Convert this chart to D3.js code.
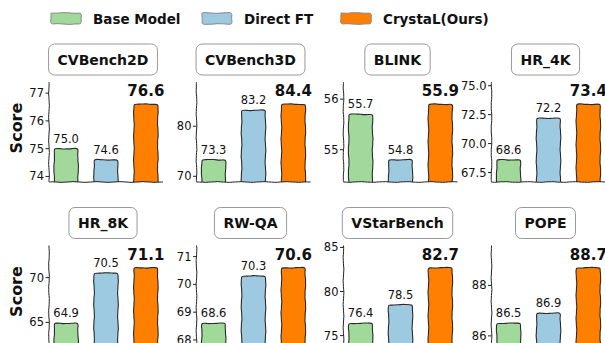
<!DOCTYPE html>
<html>
<head>
<meta charset="utf-8">
<script src="https://cdn.jsdelivr.net/npm/d3@7/dist/d3.min.js"></script>
<style>
  body { margin: 0; background: #fff; }
  svg { display: block; font-family: "DejaVu Sans", sans-serif; }
</style>
</head>
<body>
<svg id="chart" width="605" height="343"></svg>
<script>
// data
var benchmarks = ["CVBench2D", "CVBench3D", "BLINK", "HR_4K", "HR_8K", "RW-QA", "VStarBench", "POPE"];
var baseModel = [75.0, 73.3, 55.7, 68.6, 64.9, 68.6, 76.4, 86.5];
var directFT = [74.6, 83.2, 54.8, 72.2, 70.5, 70.3, 78.5, 86.9];
var crystal = [76.6, 84.4, 55.9, 73.4, 71.1, 70.6, 82.7, 88.7];
var seriesNames = ["Base Model", "Direct FT", "CrystaL(Ours)"];
var seriesColors = ["#a1d99b", "#9ecae1", "#ff7f00"];
var yTicks = [
    [74, 75, 76, 77],
    [70, 80],
    [55, 56],
    [67.5, 70, 72.5, 75],
    [65, 70],
    [68, 69, 70, 71],
    [75, 80, 85],
    [86, 88]
];

var svg = d3.select("#chart");

// layout
var colLeft = [49, 196.5, 343.5, 491.5];
var rowTop = [82, 245.5];
var axW = 114;
var axH = 100;

// small deterministic wobble so lines look hand drawn
function wobble(t, seed) {
    return 0.35 * Math.sin(t * 0.27 + seed) + 0.2 * Math.sin(t * 0.81 + seed * 2.1);
}

function sketchLine(pts, seed, closed) {
    var out = [];
    var list = closed ? pts.concat([pts[0]]) : pts;
    var dist = 0;
    for (var i = 0; i < list.length - 1; i++) {
        var a = list[i], b = list[i + 1];
        var len = Math.hypot(b[0] - a[0], b[1] - a[1]);
        var n = Math.max(2, Math.ceil(len / 3));
        var nx = -(b[1] - a[1]) / (len || 1), ny = (b[0] - a[0]) / (len || 1);
        for (var k = 0; k <= n; k++) {
            if (k === 0 && i > 0) continue;
            var f = k / n;
            var d = (k === 0 || k === n) ? 0 : wobble(dist + f * len, seed + i);
            out.push([a[0] + (b[0] - a[0]) * f + nx * d, a[1] + (b[1] - a[1]) * f + ny * d]);
        }
        dist += len;
    }
    return d3.line().curve(d3.curveBasis)(out) + (closed ? "Z" : "");
}

// legend
var legendX = [51, 202, 341];
seriesNames.forEach(function (name, i) {
    var x0 = legendX[i];
    svg.append("path")
        .attr("d", sketchLine([[x0, 13], [x0 + 30, 13], [x0 + 30, 24], [x0, 24]], i * 3 + 1, true))
        .attr("fill", seriesColors[i])
        .attr("stroke", "#888")
        .attr("stroke-width", 1);
    svg.append("text")
        .attr("x", x0 + 42)
        .attr("y", 23.5)
        .attr("font-size", "13.5px")
        .attr("font-weight", "bold")
        .attr("fill", "#111")
        .text(name);
});

var defs = svg.append("defs");

benchmarks.forEach(function (name, p) {
    var row = Math.floor(p / 4), col = p % 4;
    var left = colLeft[col], top = rowTop[row];
    var vals = [baseModel[p], directFT[p], crystal[p]];
    var lo = d3.min(vals), hi = d3.max(vals), span = hi - lo;

    var x = d3.scaleLinear().domain([-0.43, 2.43]).range([left, left + axW]);
    var y = d3.scaleLinear().domain([lo - 0.4 * span, hi + 0.4 * span]).range([top + axH, top]);

    var g = svg.append("g").attr("class", "panel");

    defs.append("clipPath").attr("id", "clip" + p)
        .append("rect")
        .attr("x", left).attr("y", top - 5)
        .attr("width", axW).attr("height", axH + 5);

    // bars
    var bars = g.append("g").attr("clip-path", "url(#clip" + p + ")");
    vals.forEach(function (v, i) {
        var x0 = x(i - 0.3), x1 = x(i + 0.3);
        var yTop = y(v), yBot = top + axH + 4;
        bars.append("path")
            .attr("d", sketchLine([[x0, yBot], [x0, yTop], [x1, yTop], [x1, yBot]], p * 7 + i * 2, true))
            .attr("fill", seriesColors[i])
            .attr("stroke", "#2a2a2a")
            .attr("stroke-width", 1.1);
    });

    // value labels
    vals.forEach(function (v, i) {
        var best = i === 2;
        g.append("text")
            .attr("x", x(i))
            .attr("y", y(v) - (best ? 8 : 6))
            .attr("text-anchor", "middle")
            .attr("font-size", best ? "15px" : "11.5px")
            .attr("font-weight", best ? "bold" : "normal")
            .attr("fill", "#111")
            .text(v.toFixed(1));
    });

    // spines
    g.append("path")
        .attr("d", sketchLine([[left, top], [left, top + axH]], p + 11, false))
        .attr("fill", "none").attr("stroke", "#222").attr("stroke-width", 1);
    g.append("path")
        .attr("d", sketchLine([[left, top + axH], [left + axW, top + axH]], p + 17, false))
        .attr("fill", "none").attr("stroke", "#222").attr("stroke-width", 1);

    // y ticks
    var fmt = yTicks[p].some(function (t) { return t % 1 !== 0; }) ? d3.format(".1f") : d3.format("d");
    yTicks[p].forEach(function (t) {
        var ty = y(t);
        g.append("line")
            .attr("x1", left - 3.5).attr("x2", left)
            .attr("y1", ty).attr("y2", ty)
            .attr("stroke", "#222").attr("stroke-width", 1);
        g.append("text")
            .attr("x", left - 5)
            .attr("y", ty)
            .attr("dy", "0.35em")
            .attr("text-anchor", "end")
            .attr("font-size", "11.5px")
            .attr("fill", "#111")
            .text(fmt(t));
    });

    // title box
    var cx = left + axW / 2 - 3;
    var title = g.append("text")
        .attr("x", cx)
        .attr("y", top - 22)
        .attr("dy", "0.35em")
        .attr("text-anchor", "middle")
        .attr("font-size", "14px")
        .attr("font-weight", "bold")
        .attr("fill", "#111")
        .text(name);
    var tw = title.node().getComputedTextLength();
    g.insert("rect", "text")
        .attr("x", cx - tw / 2 - 9)
        .attr("y", top - 38)
        .attr("width", tw + 18)
        .attr("height", 31)
        .attr("rx", 6)
        .attr("fill", "#fff")
        .attr("stroke", "#999")
        .attr("stroke-width", 1);

    if (col === 0) {
        svg.append("text")
            .attr("transform", "translate(16," + (top + axH / 2 - 4) + ") rotate(-90)")
            .attr("text-anchor", "middle")
            .attr("dy", "0.35em")
            .attr("font-size", "16px")
            .attr("font-weight", "bold")
            .attr("fill", "#111")
            .text("Score");
    }
});
</script>
</body>
</html>
